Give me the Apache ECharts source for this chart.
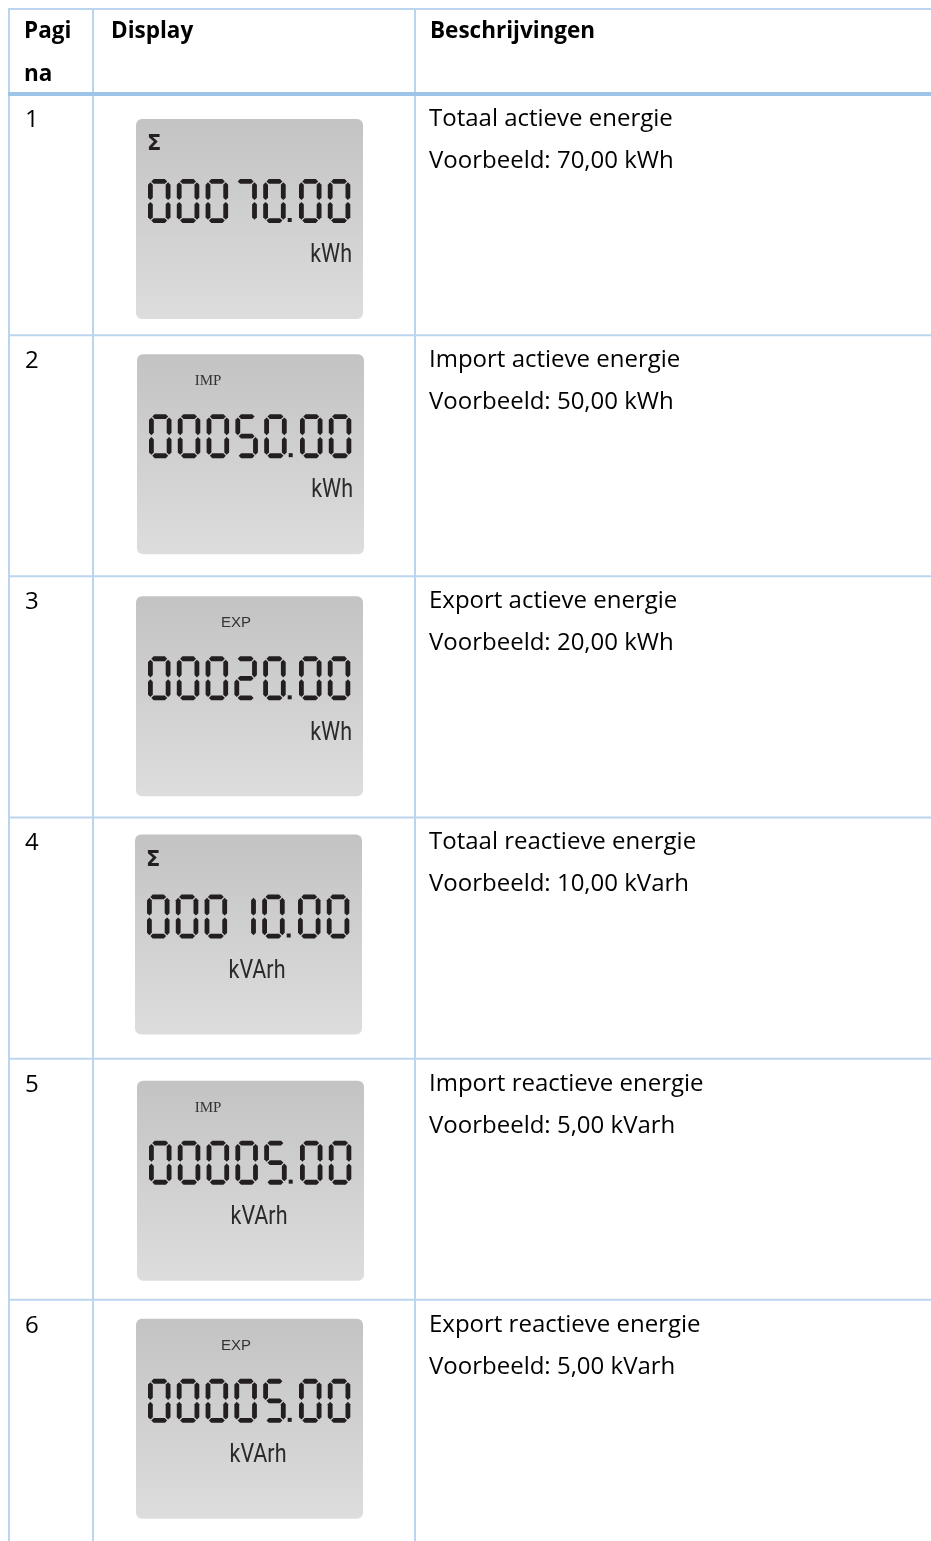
<!DOCTYPE html>
<html>
<head>
<meta charset="utf-8">
<script src="https://cdn.jsdelivr.net/npm/echarts@6/dist/echarts.min.js"></script>
<style>
html, body { margin: 0; padding: 0; background: #fff; }
#main { width: 931px; height: 1541px; }
</style>
</head>
<body>
<div id="main"></div>
<script>
// table content
const pages = ['1', '2', '3', '4', '5', '6']
const readings = [70, 50, 20, 10, 5, 5]
const titles = ['Totaal actieve energie', 'Import actieve energie', 'Export actieve energie',
  'Totaal reactieve energie', 'Import reactieve energie', 'Export reactieve energie']
const units = ['kWh', 'kWh', 'kWh', 'kVarh', 'kVarh', 'kVarh']
const lcdUnits = ['kWh', 'kWh', 'kWh', 'kVArh', 'kVArh', 'kVArh']
const lcdTags = ['Σ', 'IMP', 'EXP', 'Σ', 'IMP', 'EXP']
const headers = ['Pagi\nna', 'Display', 'Beschrijvingen']

// layout (not data): small per-row shifts of the lcd picture
const lcdTop = [25, 19, 20, 17, 22, 19]
const lcdLeft = [136, 137, 136, 135, 137, 136]

const LINE = '#bcd5ee'
const INK = '#231f20'
const FONT = '"Open Sans"'
const SEGS = {
  '0': 'abcdef', '1': 'bc', '2': 'abdeg', '3': 'abcdg', '4': 'bcfg',
  '5': 'acdfg', '6': 'acdefg', '7': 'abc', '8': 'abcdefg', '9': 'abcdfg'
}

function hSeg (x0, x1, y, h) {
  return [[x0, y], [x0 + h, y - h], [x1 - h, y - h], [x1, y], [x1 - h, y + h], [x0 + h, y + h]]
}
function vSeg (x, y0, y1, h) {
  return [[x, y0], [x + h, y0 + h], [x + h, y1 - h], [x, y1], [x - h, y1 - h], [x - h, y0 + h]]
}

function digitShapes (ch, dx, dy) {
  const W = 22.5, H = 44, h = 2.4, g = 0.9
  let pts = {
    a: hSeg(dx + h + g, dx + W - h - g, dy + h, h),
    b: vSeg(dx + W - h, dy + h + g, dy + H / 2 - g, h),
    c: vSeg(dx + W - h, dy + H / 2 + g, dy + H - h - g, h),
    d: hSeg(dx + h + g, dx + W - h - g, dy + H - h, h),
    e: vSeg(dx + h, dy + H / 2 + g, dy + H - h - g, h),
    f: vSeg(dx + h, dy + h + g, dy + H / 2 - g, h),
    g: hSeg(dx + h + g, dx + W - h - g, dy + H / 2, h)
  }
  return SEGS[ch].split('').map(s => ({
    type: 'polygon', shape: { points: pts[s] }, style: { fill: INK }
  }))
}

function tagElement (tag, bx, by) {
  if (tag === 'Σ') {
    return { type: 'text', style: { text: tag, x: bx + 11, y: by + 26, fill: INK,
      font: 'bold 21px "DejaVu Sans"', verticalAlign: 'middle' } }
  }
  if (tag === 'IMP') {
    return { type: 'text', style: { text: tag, x: bx + 71, y: by + 27, fill: '#333',
      font: '15px "Liberation Serif"', align: 'center', verticalAlign: 'middle' } }
  }
  return { type: 'text', style: { text: tag, x: bx + 100, y: by + 27, fill: '#333',
    font: '15px "Liberation Sans"', align: 'center', verticalAlign: 'middle' } }
}

function renderRow (params, api) {
  let i = api.value(1)
  let c = api.coord([0, i])
  let band = api.size([0, 1])[1]
  let top = c[1] - band / 2
  let kids = []
  if (i > 0) {
    kids.push({ type: 'line', shape: { x1: 8, y1: top, x2: 931, y2: top },
      style: { stroke: LINE, lineWidth: 2 } })
  }
  kids.push({ type: 'text', style: { text: pages[i], x: 25, y: top + 26, fill: '#000',
    font: '24px ' + FONT, verticalAlign: 'middle' } })
  kids.push({ type: 'text', style: { text: titles[i], x: 429, y: top + 25, fill: '#000',
    font: '24px ' + FONT, verticalAlign: 'middle' } })
  kids.push({ type: 'text', style: {
    text: 'Voorbeeld: ' + readings[i].toFixed(2).replace('.', ',') + ' ' + units[i],
    x: 429, y: top + 67, fill: '#000', font: '24px ' + FONT, verticalAlign: 'middle' } })

  // lcd picture
  let bx = lcdLeft[i], by = top + lcdTop[i]
  kids.push({ type: 'rect', shape: { x: bx, y: by, width: 227, height: 200, r: 6 },
    style: { fill: new echarts.graphic.LinearGradient(0, 0, 0, 1, [
      { offset: 0, color: '#c3c3c3' }, { offset: 1, color: '#dddddd' }]) } })
  kids.push(tagElement(lcdTags[i], bx, by))
  let parts = readings[i].toFixed(2).split('.')
  let digits = parts[0].padStart(5, '0') + parts[1]
  let dx = bx + 12
  for (let k = 0; k < digits.length; k++) {
    kids = kids.concat(digitShapes(digits[k], dx, by + 60))
    if (k === 4) {
      kids.push({ type: 'rect', shape: { x: dx + 24.5, y: by + 99, width: 4, height: 4 },
        style: { fill: INK } })
      dx += 7
    }
    dx += 28.8
  }
  let u = lcdUnits[i]
  let right = u === 'kWh'
  let ux = bx + (right ? 216 : 122)
  let uy = by + 137
  kids.push({ type: 'text', x: ux, y: uy, scaleX: 0.86,
    style: { text: u, x: 0, y: 0, fill: '#2a2a2a', font: '25px Roboto',
      align: right ? 'right' : 'center', verticalAlign: 'middle' } })
  return { type: 'group', children: kids }
}

let chart = echarts.init(document.getElementById('main'))
let option = {
  animation: false,
  backgroundColor: '#fff',
  grid: { left: 0, right: 0, top: 94, bottom: -9 },
  xAxis: { type: 'value', min: 0, max: 931, show: false },
  yAxis: { type: 'category', data: pages, inverse: true, show: false },
  graphic: [
    { type: 'line', shape: { x1: 8, y1: 9, x2: 931, y2: 9 }, style: { stroke: LINE, lineWidth: 2 } },
    { type: 'line', shape: { x1: 9, y1: 8, x2: 9, y2: 1541 }, style: { stroke: LINE, lineWidth: 2 } },
    { type: 'line', shape: { x1: 93, y1: 8, x2: 93, y2: 1541 }, style: { stroke: LINE, lineWidth: 2 } },
    { type: 'line', shape: { x1: 415, y1: 8, x2: 415, y2: 1541 }, style: { stroke: LINE, lineWidth: 2 } },
    { type: 'line', shape: { x1: 8, y1: 94, x2: 931, y2: 94 }, style: { stroke: '#9dc3e6', lineWidth: 4 }, z: 10 },
    { type: 'text', style: { text: headers[0], x: 24, y: 10, fill: '#000', font: 'bold 22.5px ' + FONT, lineHeight: 43 } },
    { type: 'text', style: { text: headers[1], x: 111, y: 10, fill: '#000', font: 'bold 22.5px ' + FONT, lineHeight: 43 } },
    { type: 'text', style: { text: headers[2], x: 430, y: 10, fill: '#000', font: 'bold 22.5px ' + FONT, lineHeight: 43 } }
  ],
  series: [{
    type: 'custom',
    clip: false,
    encode: { x: 0, y: 1 },
    data: pages.map((p, i) => [0, i]),
    renderItem: renderRow
  }]
}
chart.setOption(option)
</script>
</body>
</html>
